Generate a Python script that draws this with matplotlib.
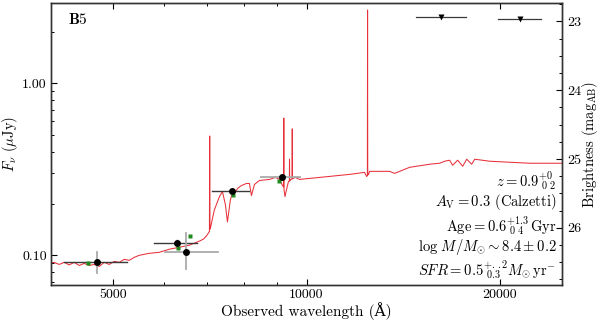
import numpy as np
import matplotlib
matplotlib.use("Agg")
import matplotlib.pyplot as plt
from matplotlib.ticker import FixedLocator, FixedFormatter, LogLocator, NullFormatter, MultipleLocator

plt.rcParams['font.family'] = 'serif'
plt.rcParams['font.serif'] = ['cmr10']
plt.rcParams['mathtext.fontset'] = 'cm'
plt.rcParams['axes.unicode_minus'] = False
plt.rcParams['axes.formatter.use_mathtext'] = True

# ---- model spectrum (observed wavelength in Angstrom, flux in microJy)
spec_wave = [3973, 4045, 4119, 4194, 4270, 4347, 4426, 4506, 4588, 4671, 4756, 4842, 4929,
             5018, 5109, 5201, 5296, 5391, 5489, 5690, 5898, 6114, 6338, 6570, 6810, 6909,
             6983, 7034, 7060, 7067, 7074, 7085, 7187, 7318, 7397, 7477, 7531, 7612, 7695,
             7750, 7806, 7919, 8062, 8150, 8208, 8297, 8447, 8757, 8947, 9077, 9175, 9210,
             9218, 9226, 9258, 9308, 9375, 9403, 9409, 9415, 9433, 9460, 9496, 9502, 9508,
             9529, 9615, 9754, 10108, 10861, 11670, 12314, 12403, 12440, 12448, 12456,
             12493, 12538, 12997, 13472, 13716, 14475, 15552, 16120, 16412, 16709, 16890,
             17197, 17509, 17762, 18083, 18279, 19292, 20731, 22275, 23850, 25000]
spec_flux = [0.0897, 0.0910, 0.0885, 0.0910, 0.0879, 0.0910, 0.0873, 0.0897, 0.0873, 0.0885,
             0.0862, 0.0910, 0.0885, 0.0922, 0.0910, 0.0947, 0.0935, 0.0973, 0.1000, 0.1027,
             0.1041, 0.1085, 0.1114, 0.1145, 0.1209, 0.1242, 0.1294, 0.1347, 0.1380, 0.494,
             0.1420, 0.1441, 0.1839, 0.2194, 0.2348, 0.1968, 0.1563, 0.2107, 0.2412, 0.2317,
             0.2445, 0.2546, 0.2616, 0.2616, 0.2224, 0.2581, 0.2724, 0.2762, 0.2838, 0.2762,
             0.2546, 0.2500, 0.628, 0.2400, 0.2194, 0.2412, 0.2686, 0.2700, 0.3621, 0.2710,
             0.2724, 0.2760, 0.2780, 0.5435, 0.2790, 0.2800, 0.2838, 0.2762, 0.2800, 0.2876,
             0.2955, 0.3036, 0.2876, 0.2900, 2.67, 0.2930, 0.2955, 0.3078, 0.3078, 0.3078,
             0.2995, 0.3249, 0.3385, 0.3431, 0.3524, 0.3573, 0.3339, 0.3573, 0.3293, 0.3621,
             0.3385, 0.3621, 0.3524, 0.3477, 0.3431, 0.3431, 0.3431]

# ---- photometry
phot_wave = [4716, 6292, 6500, 7657, 9143]
phot_flux = [0.0910, 0.1176, 0.1042, 0.2370, 0.2837]
phot_wave_lo = [4194, 5793, 6028, 7136, 8506]
phot_wave_hi = [5258, 6761, 7290, 8150, 9787]
phot_flux_lo = [0.0794, 0.1120, 0.0827, 0.2300, 0.2770]
phot_flux_hi = [0.1042, 0.1230, 0.1347, 0.2440, 0.2900]
xerr_colors = ['#3a3a3a', '#3a3a3a', '#aaaaaa', '#3a3a3a', '#aaaaaa']
yerr_colors = ['#aaaaaa', '#3a3a3a', '#aaaaaa', '#3a3a3a', '#aaaaaa']

# ---- model photometry (green squares)
model_wave = [4571, 6315, 6592, 7693, 9045]
model_flux = [0.0897, 0.110, 0.129, 0.2254, 0.2688]

# ---- upper limits
ul_wave = [16184, 21490]
ul_flux = [2.43, 2.36]
ul_wave_lo = [14791, 19863]
ul_wave_hi = [17703, 23174]

xlim = (4000, 25000)
ylim = (0.0672, 2.92)

fig = plt.figure(figsize=(6.0, 3.23), dpi=100)
ax = fig.add_axes([51/600, 1-285/323, (562-51)/600, (285-3.3)/323])

ax.plot(spec_wave, spec_flux, color='#e8303a', lw=0.75, zorder=2)

for i in range(len(phot_wave)):
    w, f = phot_wave[i], phot_flux[i]
    ax.plot([phot_wave_lo[i], phot_wave_hi[i]], [f, f], color=xerr_colors[i],
            lw=1.3 if xerr_colors[i] == '#aaaaaa' else 1.0, zorder=3)
    ax.plot([w, w], [phot_flux_lo[i], phot_flux_hi[i]], color=yerr_colors[i],
            lw=1.3 if yerr_colors[i] == '#aaaaaa' else 1.0, zorder=3)
ax.plot(model_wave, model_flux, 's', color='#1f8a1f', ms=3.5, mec='none', zorder=4)
ax.plot(phot_wave, phot_flux, 'o', color='black', ms=5, mec='none', zorder=5)

for i in range(len(ul_wave)):
    ax.plot([ul_wave_lo[i], ul_wave_hi[i]], [ul_flux[i], ul_flux[i]], color='#3a3a3a', lw=0.9, zorder=3)
ax.plot(ul_wave, ul_flux, 'v', color='black', ms=5, mec='none', zorder=5)

ax.set_xscale('log')
ax.set_yscale('log')
ax.set_xlim(*xlim)
ax.set_ylim(*ylim)

ax.xaxis.set_major_locator(FixedLocator([5000, 10000, 20000]))
ax.xaxis.set_major_formatter(FixedFormatter(['5000', '10000', '20000']))
ax.xaxis.set_minor_locator(LogLocator(base=10, subs=np.arange(2, 10)))
ax.xaxis.set_minor_formatter(NullFormatter())
ax.yaxis.set_major_locator(FixedLocator([0.1, 1.0]))
ax.yaxis.set_major_formatter(FixedFormatter(['0.10', '1.00']))
ax.yaxis.set_minor_locator(LogLocator(base=10, subs=np.arange(2, 10)))
ax.yaxis.set_minor_formatter(NullFormatter())

ax.tick_params(which='both', direction='in', top=True, right=False, labelsize=10)
ax.tick_params(which='major', length=4, width=0.8, pad=3)
ax.tick_params(which='minor', length=2.5, width=0.7)
for s in ax.spines.values():
    s.set_linewidth(1.0)
    s.set_color('#333333')

ax.set_xlabel('Observed wavelength (\u00c5)', fontsize=11, family=['cmr10', 'DejaVu Serif'])
ax.xaxis.set_label_coords(0.5, -0.06)
ax.set_ylabel(r'$F_\nu$ ($\mu$Jy)', fontsize=10.5)
ax.yaxis.set_label_coords(-0.06, 0.5)

ax2 = ax.twinx()
ax2.set_ylim(23.9 - 2.5*np.log10(ylim[0]), 23.9 - 2.5*np.log10(ylim[1]))
ax2.yaxis.set_major_locator(FixedLocator([23, 24, 25, 26]))
ax2.yaxis.set_major_formatter(FixedFormatter(['23', '24', '25', '26']))
ax2.yaxis.set_minor_locator(MultipleLocator(0.25))
ax2.tick_params(which='both', direction='in', labelsize=10)
ax2.tick_params(which='major', length=4, width=0.8)
ax2.tick_params(which='minor', length=2.5, width=0.7)
ax2.set_ylabel(r'Brightness (mag$_{\rm AB}$)', fontsize=10.5)
ax2.yaxis.set_label_coords(1.035, 0.5)
for s in ax2.spines.values():
    s.set_linewidth(1.0)
    s.set_color('#333333')

ax.text(0.033, 0.969, r'$\mathbf{B5}$', transform=ax.transAxes, fontsize=11, ha='left', va='top')

tx = 0.989
lines = [
    (0.3667, r'$z = 0.9^{+0}_{\ 0\ 2}$'),
    (0.2957, r'$A_{\rm V} = 0.3$ (Calzetti)'),
    (0.2070, r'$\mathrm{Age} = 0.6^{+1.3}_{\ 0\ 4}\,\mathrm{Gyr}$'),
    (0.1338, r'$\log\,M/M_{\odot} \sim 8.4 \pm 0.2$'),
    (0.0533, r'$SFR = 0.5^{+.\,.2}_{\ 0.3} M_{\odot}\,{\rm yr}^{-}$'),
]
for y, t in lines:
    ax.text(tx, y, t, transform=ax.transAxes, fontsize=10.5, ha='right', va='center')

fig.savefig('out.png', dpi=100)
